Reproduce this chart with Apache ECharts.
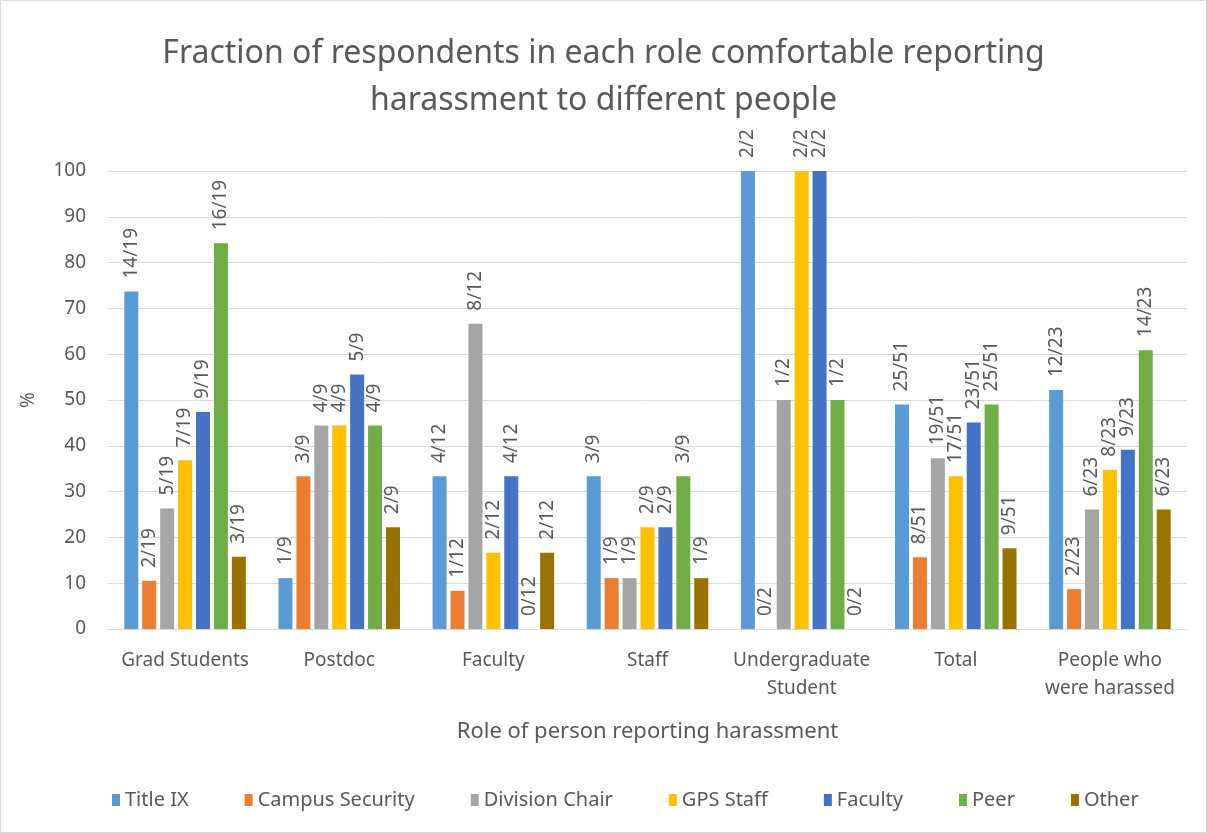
<!DOCTYPE html>
<html>
<head>
<meta charset="utf-8">
<script src="https://cdn.jsdelivr.net/npm/echarts@6/dist/echarts.min.js"></script>
<style>
html,body{margin:0;padding:0;background:#fff;}
#c{width:1207px;height:833px;box-sizing:border-box;border:1px solid #d9d9d9;}
</style>
</head>
<body>
<div id="c"></div>
<script>
var categories = ["Grad Students", "Postdoc", "Faculty", "Staff", "Undergraduate\nStudent", "Total", "People who\nwere harassed"];
var denominators = [19, 9, 12, 9, 2, 51, 23];
var seriesNames = ["Title IX", "Campus Security", "Division Chair", "GPS Staff", "Faculty", "Peer", "Other"];
var titleIX      = [14, 1, 4, 3, 2, 25, 12];
var campusSec    = [2, 3, 1, 1, 0, 8, 2];
var divisionChair= [5, 4, 8, 1, 1, 19, 6];
var gpsStaff     = [7, 4, 2, 2, 2, 17, 8];
var facultyR     = [9, 5, 4, 2, 2, 23, 9];
var peer         = [16, 4, 0, 3, 1, 25, 14];
var other        = [3, 2, 2, 1, 0, 9, 6];
var yTicks = [0,10,20,30,40,50,60,70,80,90,100];
var colors = ["#5B9BD5", "#ED7D31", "#A5A5A5", "#FFC000", "#4472C4", "#70AD47", "#997300"];
var numerators = [titleIX, campusSec, divisionChair, gpsStaff, facultyR, peer, other];

var FONT = "Noto Sans";
var TXT = "#595959";

var series = numerators.map(function(nums, si){
  return {
    name: seriesNames[si],
    type: 'bar',
    barWidth: 14,
    barGap: '28%',
    itemStyle: {color: colors[si]},
    data: nums.map(function(n, ci){
      return {value: n / denominators[ci] * 100, frac: n + '/' + denominators[ci]};
    }),
    label: {
      show: true,
      position: 'top',
      rotate: 90,
      align: 'left',
      verticalAlign: 'middle',
      distance: 13,
      color: TXT,
      fontFamily: FONT,
      fontSize: 19,
      formatter: function(p){ return p.data.frac; }
    }
  };
});

var chart = echarts.init(document.getElementById('c'));
chart.setOption({
  animation: false,
  textStyle: {fontFamily: FONT},
  title: {
    text: "Fraction of respondents in each role comfortable reporting\nharassment to different people",
    left: 'center',
    top: 24,
    textStyle: {color: TXT, fontFamily: FONT, fontSize: 32, fontWeight: 'normal', lineHeight: 47}
  },
  legend: {
    bottom: 17,
    left: 106,
    itemWidth: 8,
    itemHeight: 12,
    itemGap: 56,
    icon: 'rect',
    textStyle: {color: TXT, fontFamily: FONT, fontSize: 20},
    data: seriesNames
  },
  grid: {left: 107, right: 19, top: 170, bottom: 203, containLabel: false},
  xAxis: {
    type: 'category',
    data: categories,
    name: 'Role of person reporting harassment',
    nameLocation: 'middle',
    nameGap: 92,
    nameTextStyle: {color: TXT, fontFamily: FONT, fontSize: 22},
    axisLine: {lineStyle: {color: '#d9d9d9'}},
    axisTick: {show: false},
    axisLabel: {color: TXT, fontFamily: FONT, fontSize: 19, margin: 18, lineHeight: 28, interval: 0}
  },
  yAxis: {
    type: 'value',
    min: 0, max: 100, interval: 10,
    name: '%',
    nameLocation: 'middle',
    nameGap: 70,
    nameRotate: 90,
    nameTextStyle: {color: TXT, fontFamily: FONT, fontSize: 19},
    axisLine: {show: false},
    axisTick: {show: false},
    splitLine: {lineStyle: {color: '#d9d9d9', width: 1}},
    axisLabel: {color: TXT, fontFamily: FONT, fontSize: 19, margin: 22,
      formatter: function(v){ return yTicks.indexOf(v) >= 0 ? String(v) : ''; }}
  },
  series: series
});
</script>
</body>
</html>
